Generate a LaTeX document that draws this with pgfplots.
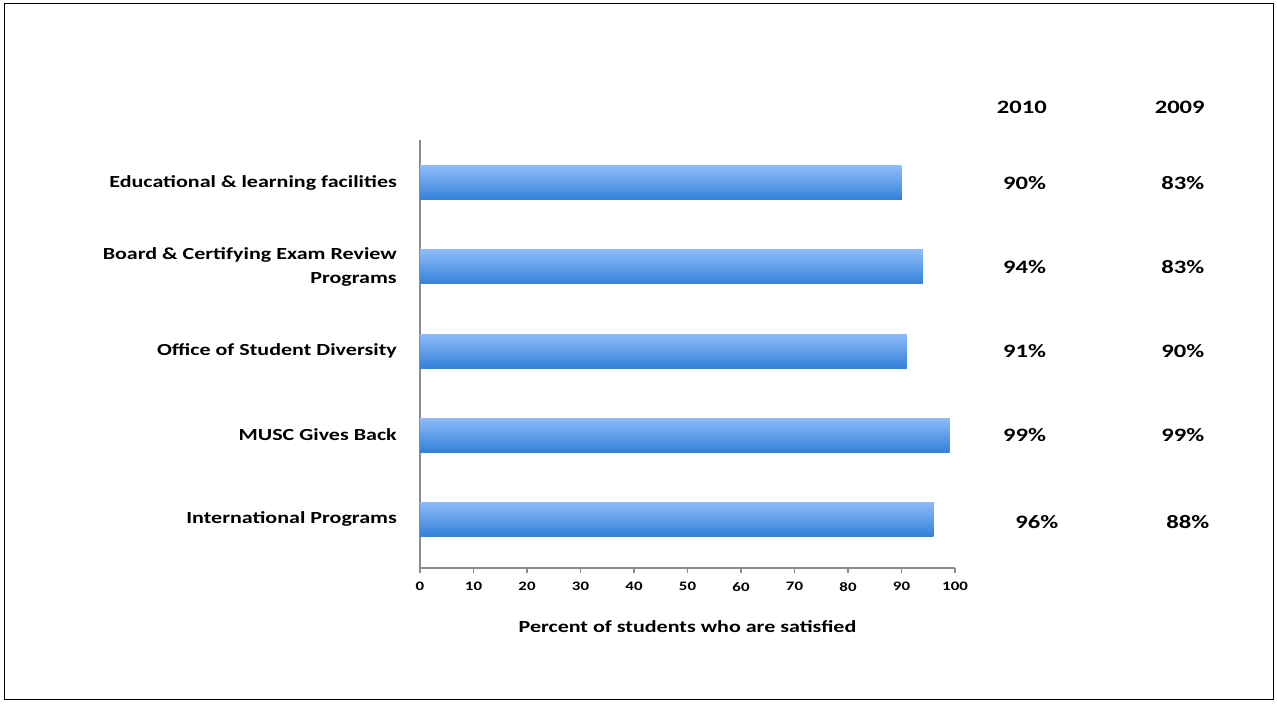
\documentclass[border=0pt]{standalone}
\usepackage{pgfplots}
\pgfplotsset{compat=1.18}
\usepackage{fontspec}
\setmainfont{Carlito}[FakeStretch=1.3]
\definecolor{bartop}{HTML}{8DBBF9}
\definecolor{barbot}{HTML}{3381D8}
\definecolor{axgray}{HTML}{8C8C8C}
\begin{document}
\begin{tikzpicture}[x=1bp,y=1bp]
\draw[black, line width=1bp] (4,4) rectangle (1273,700);
\path (0,0) (1277,704);
\begin{axis}[
  at={(420bp,136bp)}, anchor=south west,
  scale only axis, width=535bp, height=428bp,
  xmin=0, xmax=100, ymin=-0.583, ymax=4.512,
  axis x line*=bottom, axis y line*=left,
  axis line style={draw=axgray, line width=2bp},
  xtick={0,10,...,100},
  ytick={0,1,2,3,4},
  yticklabels={International Programs, MUSC Gives Back, Office of Student Diversity, {Board \& Certifying Exam Review\\Programs}, Educational \& learning facilities},
  y tick style={draw=none},
  x tick style={draw=axgray, line width=1.5bp},
  xtick align=outside,
  major tick length=5bp,
  yticklabel style={align=right, inner sep=0pt, xshift=-18bp, font=\bfseries\fontsize{17}{25}\selectfont},
  xticklabel style={inner sep=0pt, yshift=-9bp, font=\bfseries\fontsize{13}{15}\selectfont},
  /pgf/number format/assume math mode=true,
  xlabel={Percent of students who are satisfied},
  xlabel style={font=\bfseries\fontsize{17}{20}\selectfont, yshift=-26bp},
  clip=false,
  xbar, bar width=34bp, bar shift=0pt,
  every axis plot/.append style={draw=none, top color=bartop, bottom color=barbot},
]
\addplot coordinates {(96,0)};
\addplot coordinates {(99,1)};
\addplot coordinates {(91,2)};
\addplot coordinates {(94,3)};
\addplot coordinates {(90,4)};
\begin{scope}[every node/.style={font=\bfseries\fontsize{19}{22}\selectfont}]
\node at (axis cs:112.5,4.9) {2010};
\node at (axis cs:142,4.9) {2009};
\node at (axis cs:113.0,4) {90\%};
\node at (axis cs:142.6,4) {83\%};
\node at (axis cs:113.0,3) {94\%};
\node at (axis cs:142.6,3) {83\%};
\node at (axis cs:113.0,2) {91\%};
\node at (axis cs:142.6,2) {90\%};
\node at (axis cs:113.0,1) {99\%};
\node at (axis cs:142.6,1) {99\%};
\node at (axis cs:115.3,-0.04) {96\%};
\node at (axis cs:143.5,-0.04) {88\%};
\end{scope}
\end{axis}
\end{tikzpicture}
\end{document}
